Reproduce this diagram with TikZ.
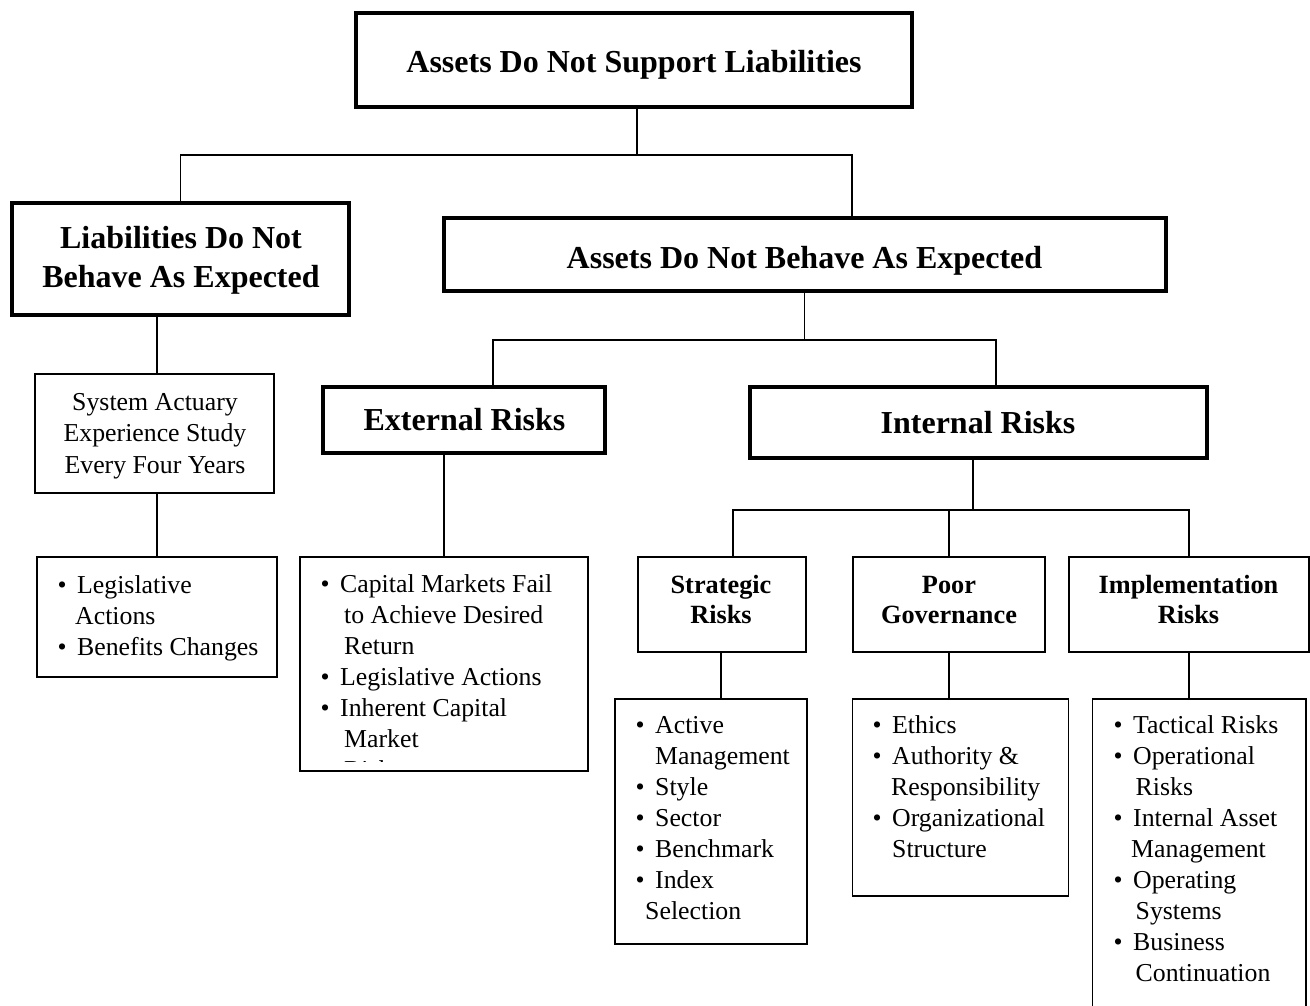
\documentclass[tikz,border=0pt]{standalone}
\usepackage{fontspec}
\setmainfont{Liberation Serif}
\usetikzlibrary{calc}
\newcommand\bi[1]{\hbox{\hbox to 19.6pt{\textbullet\hss}#1}}
\newcommand\bc[2][0pt]{\hbox{\hbox to 19.6pt{}\hskip#1\relax #2}}
\newcommand\ctwo[3]{\vtop{\baselineskip=#1\relax\halign{\hfil##\hfil\cr #2\cr #3\cr}}}
\newcommand\cthree[4]{\vtop{\baselineskip=#1\relax\halign{\hfil##\hfil\cr #2\cr #3\cr #4\cr}}}
\newcommand\lst[1]{\vtop{\baselineskip=31pt\relax #1}}
\begin{document}
\begin{tikzpicture}[x=1pt,y=-1pt,
  bigbox/.style={draw, line width=3.3pt, inner sep=0pt},
  thinbox/.style={draw, line width=1.6pt, inner sep=0pt},
  conn/.style={line width=1.9pt},
  big/.style={font=\fontsize{32}{38}\selectfont\bfseries, inner sep=0pt},
  hd/.style={font=\fontsize{26.3}{30}\selectfont\bfseries, inner sep=0pt},
  body/.style={font=\fontsize{25.8}{31}\selectfont, inner sep=0pt}]
\useasboundingbox (0,0) rectangle (1310,1006);
\fill[white] (0,0) rectangle (1310,1006);
% boxes
\node[bigbox, minimum width=556pt, minimum height=94pt] (top) at (634,60) {};
\node[bigbox, minimum width=337pt, minimum height=112pt] (liab) at (180.5,259) {};
\node[bigbox, minimum width=722pt, minimum height=73pt] (asb) at (805,254.5) {};
\node[thinbox, minimum width=239pt, minimum height=119pt] (sa) at (154.5,433.5) {};
\node[thinbox, minimum width=240pt, minimum height=120pt] (leg) at (157,617) {};
\node[bigbox, minimum width=282pt, minimum height=66pt] (ext) at (464,420) {};
\node[bigbox, minimum width=457pt, minimum height=71pt] (intr) at (978.5,422.5) {};
\node[thinbox, minimum width=288pt, minimum height=214pt] (cap) at (444,664) {};
\node[thinbox, line width=1.9pt, minimum width=168pt, minimum height=95pt] (str) at (722,604.5) {};
\node[thinbox, line width=1.9pt, minimum width=192pt, minimum height=95pt] (poor) at (948.6,604.5) {};
\node[thinbox, line width=1.9pt, minimum width=240pt, minimum height=95pt] (impl) at (1188.6,604.5) {};
\node[thinbox, minimum width=192pt, minimum height=245pt] (strl) at (711,821.5) {};
\node[thinbox, minimum width=216pt, minimum height=197pt] (poorl) at (960.6,797.5) {};
\node[inner sep=0pt, minimum width=213.4pt, minimum height=307pt] (impll) at (1199.3,852.5) {};
\draw[line width=1.6pt] (impll.south west) |- (impll.north east) -- (impll.south east);
% junctions
\coordinate (j1) at (637,155);
\coordinate (asbin) at (852,218);
\coordinate (j2) at (804.5,340);
\coordinate (extin) at (493,387);
\coordinate (intin) at (996,387);
\coordinate (liabout) at (157,315);
\coordinate (j3) at (973,510);
\coordinate (strin) at (733,557);
% connectors
\draw[conn] (top.south -| j1) -- (j1);
\draw[conn] (liab.north) |- (j1) -| (asbin);
\draw[conn] (asb.south -| j2) -- (j2);
\draw[conn] (extin) |- (j2) -| (intin);
\draw[conn] (liabout) -- (sa.north -| liabout);
\draw[conn] (sa.south -| liabout) -- (leg.north -| liabout);
\draw[conn] (ext.south -| cap.north) -- (cap.north);
\draw[conn] (intr.south -| j3) -- (j3);
\draw[conn] (strin) |- (j3) -| (impl.north);
\draw[conn] (poor.north) -- (poor.north |- j3);
\draw[conn] (str.south -| 721,0) -- (strl.north -| 721,0);
\draw[conn] (poor.south) -- (poor.south |- poorl.north);
\draw[conn] (impl.south) -- (impl.south |- impll.north);
% texts
\node[big, anchor=base] (ttop) at (634,73) {Assets Do Not Support Liabilities};
\node[big, anchor=base] (tliab) at (181,248) {\ctwo{39pt}{Liabilities Do Not}{Behave As Expected}};
\node[big, anchor=base] (tasb) at (804.5,268) {Assets Do Not Behave As Expected};
\node[big, anchor=base] (text) at (464.5,430) {External Risks};
\node[big, anchor=base] (tint) at (978,433) {Internal Risks};
\node[body, anchor=base] (tsa) at (155,410) {\cthree{31.5pt}{System Actuary}{Experience Study}{Every Four Years}};
\node[hd, anchor=base] (tstr) at (721,593) {\ctwo{30pt}{Strategic}{Risks}};
\node[hd, anchor=base] (tpoor) at (949,593) {\ctwo{30pt}{Poor}{Governance}};
\node[hd, anchor=base] (timpl) at (1188.5,593) {\ctwo{30pt}{Implementation}{Risks}};
\node[body, anchor=base west] (tleg) at (57.4,593) {\lst{\bi{Legislative}\bc[-2pt]{Actions}\bi{Benefits Changes}}};
\begin{scope}
\clip (cap.north west) rectangle (588,761.5);
\node[body, anchor=base west] (tcap) at (320.4,592) {\lst{\bi{Capital Markets Fail}\bc[4pt]{to Achieve Desired}\bc[4pt]{Return}\bi{Legislative Actions}\bi{Inherent Capital}\bc[4pt]{Market}\bc[4pt]{Risks}}};
\end{scope}
\node[body, anchor=base west] (tstrl) at (635.4,733) {\lst{\bi{Active}\bc{Management}\bi{Style}\bi{Sector}\bi{Benchmark}\bi{Index}\bc[-10pt]{Selection}}};
\node[body, anchor=base west] (tpoorl) at (872.4,733) {\lst{\bi{Ethics}\bi{Authority \&}\bc[-1pt]{Responsibility}\bi{Organizational}\bc{Structure}}};
\node[body, anchor=base west] (timpll) at (1113.4,733) {\lst{\bi{Tactical Risks}\bi{Operational}\bc[2.5pt]{Risks}\bi{Internal Asset}\bc[-2pt]{Management}\bi{Operating}\bc[2.5pt]{Systems}\bi{Business}\bc[2.5pt]{Continuation}}};
\end{tikzpicture}
\end{document}
